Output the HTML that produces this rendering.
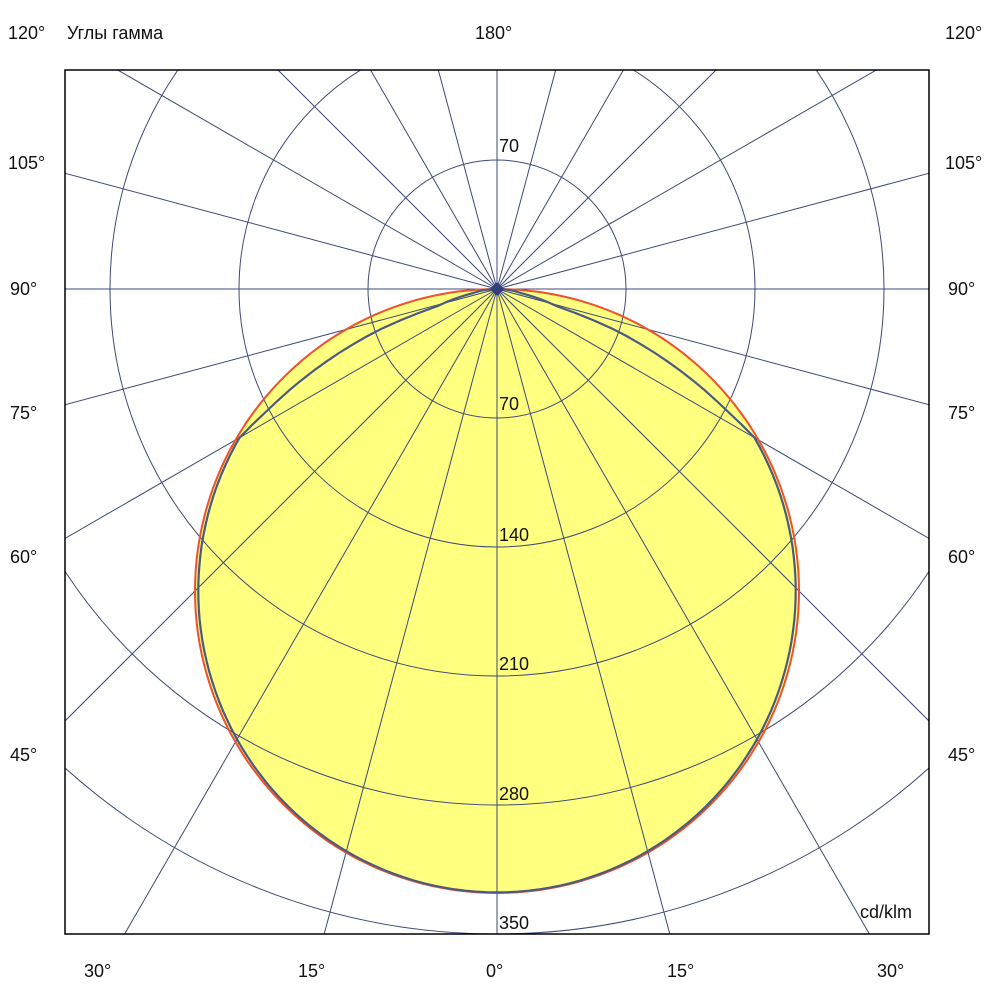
<!DOCTYPE html>
<html><head><meta charset="utf-8"><style>
html,body{margin:0;padding:0;background:#fff;overflow:hidden;width:1000px;height:1000px;}
svg{display:block;}
text{font-family:"Liberation Sans","Noto Sans CJK SC",sans-serif;font-size:18px;fill:#111;}
</style></head><body>
<svg id="s" width="1000" height="1000" xmlns="http://www.w3.org/2000/svg">
<defs><clipPath id="c"><rect x="65" y="70" width="864" height="864"/></clipPath></defs>
<path id="fill" fill="#ffff80" stroke="none"/>
<g id="grid" clip-path="url(#c)" stroke="#3d4a78" stroke-width="1" fill="none"></g>
<path id="red" fill="none" stroke="#f0502a" stroke-width="2"/>
<path id="blue" fill="none" stroke="#4a5a80" stroke-width="2.2"/>
<rect x="65" y="70" width="864" height="864" fill="none" stroke="#000" stroke-width="1.5"/>
<polygon points="497,282 504,289 497,296 490,289" fill="#33407a"/>
<text x="8" y="39">120°</text>
<text x="67" y="39">Углы гамма</text>
<text x="475" y="39">180°</text>
<text x="945" y="39">120°</text>
<text x="8" y="169">105°</text><text x="945" y="169">105°</text>
<text x="10" y="295">90°</text><text x="948" y="295">90°</text>
<text x="10" y="419">75°</text><text x="948" y="419">75°</text>
<text x="10" y="563">60°</text><text x="948" y="563">60°</text>
<text x="10" y="761">45°</text><text x="948" y="761">45°</text>
<text x="84" y="977">30°</text><text x="298" y="977">15°</text><text x="486" y="977">0°</text>
<text x="667" y="977">15°</text><text x="877" y="977">30°</text>
<text x="499" y="152">70</text>
<text x="499" y="410">70</text>
<text x="499" y="541">140</text>
<text x="499" y="670">210</text>
<text x="499" y="800">280</text>
<text x="499" y="929">350</text>
<text x="860" y="918">cd/klm</text>
</svg>
<script>
var cx=497,cy=289,k=645/350,ns="http://www.w3.org/2000/svg",g=document.getElementById('grid');
function el(t,a){var e=document.createElementNS(ns,t);for(var i in a)e.setAttribute(i,a[i]);g.appendChild(e);}
for(var i=1;i<=5;i++)el('circle',{cx:cx,cy:cy,r:i*70*k});
for(var a=0;a<360;a+=15){var r=a*Math.PI/180;el('line',{x1:cx,y1:cy,x2:cx+1500*Math.sin(r),y2:cy+1500*Math.cos(r)});}
var R=604,dr="",db="";
for(var d=-90;d<=90;d+=1){var t=d*Math.PI/180,rr=R*Math.cos(t);var x=cx+rr*Math.sin(t),y=cy+rr*Math.cos(t);dr+=(d==-90?"M":"L")+x.toFixed(1)+","+y.toFixed(1);}
document.getElementById('red').setAttribute('d',dr);
document.getElementById('fill').setAttribute('d',dr+"Z");
function br(ad){var t=ad*Math.PI/180;if(ad<=60)return R*Math.cos(t)*(0.999-0.02*Math.pow(Math.sin(t),2));
 var pts=[[60,297],[62,262],[70.7,128],[74,62],[80,25],[90,0]];
 for(var i=0;i<pts.length-1;i++)if(ad>=pts[i][0]&&ad<=pts[i+1][0]){var f=(ad-pts[i][0])/(pts[i+1][0]-pts[i][0]);return pts[i][1]+f*(pts[i+1][1]-pts[i][1]);}return 0;}
for(var d=-90;d<=90;d+=1){var t=d*Math.PI/180,rr=br(Math.abs(d));var x=cx+rr*Math.sin(t),y=cy+rr*Math.cos(t);db+=(d==-90?"M":"L")+x.toFixed(1)+","+y.toFixed(1);}
document.getElementById('blue').setAttribute('d',db);
</script>
</body></html>
